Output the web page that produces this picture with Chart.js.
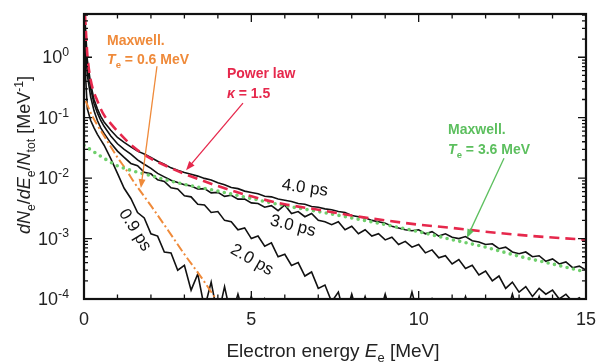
<!DOCTYPE html>
<html>
<head>
<meta charset="utf-8">
<script src="https://cdn.jsdelivr.net/npm/chart.js@4.4.0/dist/chart.umd.min.js"></script>
<style>
  html, body { margin: 0; padding: 0; background: #fff; }
  #wrap { width: 600px; height: 363px; }
</style>
</head>
<body>
<div id="wrap"><canvas id="myChart" width="600" height="363"></canvas></div>
<script>
// Trục năng lượng chung cho các đường mô phỏng (MeV)
const energy = [0.02, 0.05, 0.1, 0.2, 0.3, 0.4, 0.5, 0.6, 0.8, 1.0,
  1.2, 1.4, 1.6, 1.8, 2.0, 2.2, 2.4, 2.6, 2.8, 3.0,
  3.2, 3.4, 3.6, 3.8, 4.0, 4.2, 4.4, 4.6, 4.8, 5.0,
  5.2, 5.4, 5.6, 5.8, 6.0, 6.2, 6.4, 6.6, 6.8, 7.0,
  7.2, 7.4, 7.6, 7.8, 8.0, 8.2, 8.4, 8.6, 8.8, 9.0,
  9.2, 9.4, 9.6, 9.8, 10.0, 10.2, 10.4, 10.6, 10.8, 11.0,
  11.2, 11.4, 11.6, 11.8, 12.0, 12.2, 12.4, 12.6, 12.8, 13.0,
  13.2, 13.4, 13.6, 13.8, 14.0, 14.2, 14.4, 14.6, 14.8, 15.0];

const spec40 = [6, 2.6, 0.9, 0.36, 0.2, 0.14, 0.105, 0.085, 0.062, 0.047,
  0.039, 0.033, 0.028, 0.025, 0.022, 0.019, 0.017, 0.0148, 0.0135, 0.0124,
  0.0116, 0.0108, 0.0099, 0.0093, 0.0084, 0.0078, 0.0070, 0.0067, 0.0061, 0.0058,
  0.0055, 0.0050, 0.0049, 0.0045, 0.0043, 0.0041, 0.0038, 0.0037, 0.0034, 0.0033,
  0.0031, 0.0030, 0.0028, 0.0027, 0.0024, 0.0023, 0.0022, 0.0020, 0.0019, 0.0018,
  0.0016, 0.0015, 0.0014, 0.00135, 0.0014, 0.0012, 0.0013, 0.0011, 0.0012, 0.00105,
  0.0010, 0.00108, 0.00092, 0.00088, 0.0008, 0.00082, 0.00068, 0.00072, 0.0006, 0.00056,
  0.0006, 0.0005, 0.00052, 0.00042, 0.00046, 0.00038, 0.00041, 0.00033, 0.00035, 0.0003];

const spec30 = [5, 2.0, 0.7, 0.3, 0.17, 0.12, 0.09, 0.072, 0.05, 0.037,
  0.03, 0.025, 0.02, 0.017, 0.0145, 0.012, 0.0105, 0.0092, 0.0085, 0.0078,
  0.0074, 0.0066, 0.0067, 0.0057, 0.0058, 0.0050, 0.0052, 0.0045, 0.0045, 0.0039,
  0.0038, 0.0033, 0.0035, 0.0029, 0.0036, 0.0026, 0.0028, 0.0023, 0.0026, 0.0020,
  0.0019, 0.0017, 0.0019, 0.0014, 0.0016, 0.0012, 0.0014, 0.0011, 0.0012, 0.00095,
  0.00105, 0.0008, 0.0009, 0.00072, 0.0008, 0.00058, 0.00065, 0.00048, 0.00052, 0.00038,
  0.00045, 0.00032, 0.00036, 0.00025, 0.00029, 0.0002, 0.00024, 0.00015, 0.00019, 0.00013,
  0.00016, 0.00011, 0.00015, 0.00012, 0.00014, 0.0001, 0.00012, 0.00009, 0.000105, 0.00008];

const spec20 = [4, 1.5, 0.5, 0.22, 0.13, 0.09, 0.068, 0.055, 0.038, 0.028,
  0.022, 0.0175, 0.016, 0.0125, 0.0118, 0.0094, 0.0088, 0.0069, 0.0066, 0.0051,
  0.0049, 0.0037, 0.0036, 0.0027, 0.0028, 0.002, 0.0019, 0.0014, 0.0015, 0.001,
  0.0011, 0.00075, 0.00085, 0.0005, 0.00055, 0.00036, 0.0004, 0.00024, 0.00028, 0.00015,
  0.00017, 0.00009, 0.00013, 0.00005, 0.00012, 0.00005, 0.00011, 0.00005, 0.00005, 0.00012,
  0.00005, 0.00005, 0.00005, 0.00013, 0.00005, 0.00005, 0.0001, 0.00005, 0.00005, 0.00005,
  0.00005, 0.00011, 0.00005, 0.00005, 0.00005, 0.00005, 0.00005, 0.00005, 0.00012, 0.00005,
  0.00005, 0.00005, 0.00011, 0.00005, 0.00005, 0.00005, 0.00005, 0.00005, 0.00005, 0.00005];

const spec09 = [3, 0.45, 0.14, 0.09, 0.068, 0.053, 0.043, 0.035, 0.021, 0.012,
  0.0068, 0.0046, 0.0027, 0.0022, 0.0012, 0.0011, 0.0006, 0.00058, 0.0003, 0.00036,
  0.00014, 0.00026, 0.00007, 0.00019, 0.00005, 0.00016, 0.00005, 0.00012, 0.00005, 0.00011,
  0.00005, 0.0001, 0.00005, 0.00005, 0.00005];

// Đường lý thuyết
const powerE = [0.03, 0.05, 0.1, 0.2, 0.4, 0.6, 0.8, 1.0, 1.5, 2.0, 2.5, 3.0, 4.0, 5.0, 6.0, 7.0, 8.0, 9.0, 10, 11, 12, 13, 14, 15];
const powerLaw = [5, 3.2, 1.1, 0.42, 0.19, 0.11, 0.08, 0.06, 0.032, 0.021, 0.0155, 0.0118, 0.0074, 0.005, 0.0037, 0.003, 0.0024, 0.002, 0.0017, 0.0015, 0.0013, 0.00115, 0.00104, 0.00096];

const hotE = [0, 0.5, 1, 1.5, 2, 2.5, 3, 4, 5, 6, 7, 8, 9, 10, 11, 12, 13, 14, 15];
const maxwellHot = [0.035, 0.023, 0.016, 0.013, 0.011, 0.0092, 0.0079, 0.0061, 0.0046, 0.0035, 0.0028, 0.0022, 0.0017, 0.0013, 0.00096, 0.00072, 0.00051, 0.00038, 0.00028];

const coldE = [0.05, 0.2, 0.4, 0.6, 0.8, 1.0, 1.25, 1.5, 2.0, 2.5, 3.0, 3.5, 4.0];
const maxwellCold = [0.19, 0.12, 0.075, 0.05, 0.033, 0.022, 0.014, 0.0085, 0.0035, 0.0014, 0.00055, 0.00023, 0.00009];

// Nhãn trục
const xTickLabels = [0, 5, 10, 15];
const yTickExps = [0, -1, -2, -3, -4];

const FONT = '"Liberation Sans", Arial, sans-serif';
const ORANGE = '#ef8a3a', RED = '#e6284c', GREEN = '#5cbf5e';

function pts(xs, ys) {
    return ys.map((v, i) => ({ x: xs[i], y: v }));
}

// Vẽ chữ có chỉ số trên/dưới và chữ nghiêng
function rich(ctx, parts, x, y, size, align, weight) {
    const fontFor = p => {
        const s = (p.sub || p.sup) ? size * 0.68 : size;
        return (p.i ? 'italic ' : '') + (weight || '') + ' ' + s + 'px ' + FONT;
    };
    let w = 0;
    parts.forEach(p => { ctx.font = fontFor(p); w += ctx.measureText(p.t).width; });
    let cx = align === 'center' ? x - w / 2 : align === 'right' ? x - w : x;
    ctx.textAlign = 'left';
    ctx.textBaseline = 'alphabetic';
    parts.forEach(p => {
        ctx.font = fontFor(p);
        const dy = p.sub ? size * 0.25 : p.sup ? -size * 0.4 : 0;
        ctx.fillText(p.t, cx, y + dy);
        cx += ctx.measureText(p.t).width;
    });
}

function arrow(ctx, x1, y1, x2, y2, color) {
    const a = Math.atan2(y2 - y1, x2 - x1), c = Math.cos(a), s = Math.sin(a);
    ctx.strokeStyle = color; ctx.fillStyle = color; ctx.lineWidth = 1.3;
    ctx.beginPath(); ctx.moveTo(x1, y1); ctx.lineTo(x2 - 6 * c, y2 - 6 * s); ctx.stroke();
    ctx.beginPath(); ctx.moveTo(x2, y2);
    ctx.lineTo(x2 - 9 * c + 3.5 * s, y2 - 9 * s - 3.5 * c);
    ctx.lineTo(x2 - 9 * c - 3.5 * s, y2 - 9 * s + 3.5 * c);
    ctx.closePath(); ctx.fill();
}

// Chú thích (toạ độ theo dữ liệu: E, giá trị)
const notes = [
    { E: 0.69, v: 1.91, color: ORANGE, parts: [{ t: 'Maxwell.' }] },
    { E: 0.69, v: 0.927, color: ORANGE, parts: [{ t: 'T', i: true }, { t: 'e', sub: true }, { t: ' = 0.6 MeV' }] },
    { E: 4.27, v: 0.544, color: RED, parts: [{ t: 'Power law' }] },
    { E: 4.27, v: 0.254, color: RED, parts: [{ t: 'κ', i: true }, { t: ' = 1.5' }] },
    { E: 10.88, v: 0.0646, color: GREEN, parts: [{ t: 'Maxwell.' }] },
    { E: 10.88, v: 0.0302, color: GREEN, parts: [{ t: 'T', i: true }, { t: 'e', sub: true }, { t: ' = 3.6 MeV' }] }
];
const arrows = [
    { from: [2.18, 0.71], to: [1.70, 0.00684], color: ORANGE },
    { from: [4.75, 0.174], to: [3.05, 0.01355], color: RED },
    { from: [12.55, 0.0214], to: [11.44, 0.00102], color: GREEN }
];
const curveLabels = [
    { text: '4.0 ps', E: 6.60, v: 0.00684, rot: 8 },
    { text: '3.0 ps', E: 6.24, v: 0.00161, rot: 14 },
    { text: '2.0 ps', E: 5.02, v: 0.000441, rot: 30 },
    { text: '0.9 ps', E: 1.52, v: 0.00138, rot: 58 }
];

const decor = {
    id: 'decor',
    afterDraw(chart) {
        const { ctx, chartArea: a, scales: { x, y } } = chart;
        ctx.save();
        ctx.strokeStyle = '#111';
        ctx.lineWidth = 1.3;
        // Vạch chia trục x (hướng vào trong)
        for (let e = 0; e <= 15; e++) {
            const px = x.getPixelForValue(e), len = e % 5 === 0 ? 8 : 4.5;
            ctx.beginPath();
            ctx.moveTo(px, a.bottom); ctx.lineTo(px, a.bottom - len);
            ctx.moveTo(px, a.top); ctx.lineTo(px, a.top + len);
            ctx.stroke();
        }
        // Vạch chia trục y (log)
        for (let p = -4; p <= 0; p++) {
            for (let m = 1; m <= 9; m++) {
                const val = m * Math.pow(10, p);
                if (val > y.max) continue;
                const py = y.getPixelForValue(val), len = m === 1 ? 8 : 4;
                ctx.beginPath();
                ctx.moveTo(a.left, py); ctx.lineTo(a.left + len, py);
                ctx.moveTo(a.right, py); ctx.lineTo(a.right - len, py);
                ctx.stroke();
            }
        }
        // Khung
        ctx.lineWidth = 2.2;
        ctx.strokeRect(a.left, a.top, a.right - a.left, a.bottom - a.top);

        ctx.fillStyle = '#222';
        // Nhãn trục x
        ctx.font = '18px ' + FONT;
        ctx.textAlign = 'center';
        ctx.textBaseline = 'middle';
        xTickLabels.forEach(v => ctx.fillText(String(v), x.getPixelForValue(v), 320));
        // Nhãn trục y: 10^n
        yTickExps.forEach(n => {
            const py = y.getPixelForValue(Math.pow(10, n));
            rich(ctx, [{ t: '10' }, { t: String(n), sup: true }], 69, py + 6, 18, 'right');
        });
        // Tiêu đề trục
        rich(ctx, [{ t: 'Electron energy ' }, { t: 'E', i: true }, { t: 'e', sub: true }, { t: ' [MeV]' }], 333, 357, 19, 'center');
        ctx.save();
        ctx.translate(30, 155);
        ctx.rotate(-Math.PI / 2);
        rich(ctx, [{ t: 'dN', i: true }, { t: 'e', sub: true }, { t: '/' }, { t: 'dE', i: true }, { t: 'e', sub: true },
            { t: '/' }, { t: 'N', i: true }, { t: 'tot', sub: true }, { t: ' [MeV' }, { t: '-1', sup: true }, { t: ']' }], 0, 0, 18, 'center');
        ctx.restore();

        // Chú thích màu
        notes.forEach(n => {
            ctx.fillStyle = n.color;
            rich(ctx, n.parts, x.getPixelForValue(n.E), y.getPixelForValue(n.v) + 5, 14, 'left', 'bold');
        });
        arrows.forEach(r => arrow(ctx, x.getPixelForValue(r.from[0]), y.getPixelForValue(r.from[1]),
            x.getPixelForValue(r.to[0]), y.getPixelForValue(r.to[1]), r.color));

        // Nhãn các đường thời gian
        ctx.fillStyle = '#111';
        ctx.font = '17px ' + FONT;
        ctx.textAlign = 'center';
        ctx.textBaseline = 'middle';
        curveLabels.forEach(l => {
            ctx.save();
            ctx.translate(x.getPixelForValue(l.E), y.getPixelForValue(l.v));
            ctx.rotate(l.rot * Math.PI / 180);
            ctx.fillText(l.text, 0, 0);
            ctx.restore();
        });
        ctx.restore();
    }
};

function blackLine(values) {
    return { data: pts(energy, values), borderColor: '#111', borderWidth: 1.6, tension: 0 };
}

const ctx = document.getElementById('myChart').getContext('2d');
new Chart(ctx, {
    type: 'line',
    data: {
        datasets: [
            { data: pts(powerE, powerLaw), borderColor: RED, borderWidth: 2.6, borderDash: [10, 6], cubicInterpolationMode: 'monotone' },
            { data: pts(hotE, maxwellHot), borderColor: '#6fcf6c', borderWidth: 3.6, borderDash: [0, 6.5], borderCapStyle: 'round', cubicInterpolationMode: 'monotone' },
            { data: pts(coldE, maxwellCold), borderColor: ORANGE, borderWidth: 2, borderDash: [9, 3, 2, 3], cubicInterpolationMode: 'monotone' },
            blackLine(spec40),
            blackLine(spec30),
            blackLine(spec20),
            blackLine(spec09)
        ]
    },
    options: {
        responsive: false,
        animation: false,
        layout: { padding: { left: 84, right: 14, top: 14, bottom: 64 } },
        elements: { point: { radius: 0 } },
        plugins: { legend: { display: false }, tooltip: { enabled: false } },
        scales: {
            x: { type: 'linear', min: 0, max: 15, display: false },
            y: { type: 'logarithmic', min: 1e-4, max: 5.2, display: false }
        }
    },
    plugins: [decor]
});
</script>
</body>
</html>
